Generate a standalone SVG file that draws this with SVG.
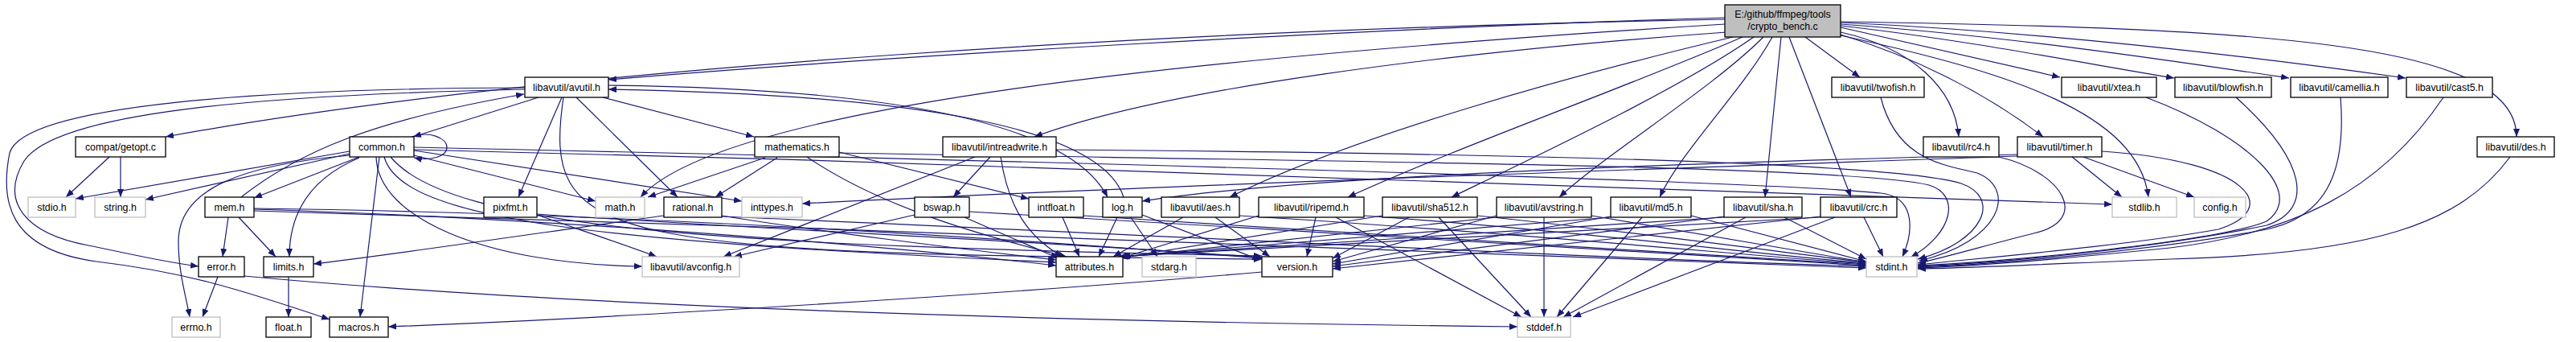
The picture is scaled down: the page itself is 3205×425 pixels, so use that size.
<svg xmlns="http://www.w3.org/2000/svg" width="3205" height="425" viewBox="0 0 3205 425">
<style>
.e{fill:none;stroke:#191970;stroke-width:1.2;marker-end:url(#a)}
.n rect{fill:#fff;stroke:#000;stroke-width:1.3}
.u rect{fill:#fff;stroke:#bfbfbf;stroke-width:1.3}
.r rect{fill:#bfbfbf;stroke:#000;stroke-width:1.3}
text{font-family:"Liberation Sans",Arial,sans-serif;font-size:12.4px;fill:#000;text-anchor:middle}
</style>
<defs>
<marker id="a" viewBox="0 0 10 8" refX="10" refY="4" markerWidth="10" markerHeight="8" markerUnits="userSpaceOnUse" orient="auto"><path d="M0,0L10,4L0,8z" fill="#191970"/></marker>
</defs>
<rect width="3205" height="425" fill="#fff"/>
<g id="connectors">
<path class="e" d="M2146,22 C1700,35 1100,70 757,99"/>
<path class="e" d="M2146,24 C1500,36 700,80 206,170"/>
<path class="e" d="M2146,30 C1500,70 900,130 797,245"/>
<path class="e" d="M2148,40 C1800,65 1450,110 1287,170"/>
<path class="e" d="M2156,46 C1950,95 1680,170 1530,245"/>
<path class="e" d="M2168,46 C2020,110 1820,180 1677,245"/>
<path class="e" d="M2182,46 C2090,110 1920,190 1806,245"/>
<path class="e" d="M2194,46 C2130,110 2000,190 1940,245"/>
<path class="e" d="M2205,46 C2170,110 2090,190 2065,245"/>
<path class="e" d="M2216,46 L2196,245"/>
<path class="e" d="M2226,46 L2303,245"/>
<path class="e" d="M2246,46 L2314,96"/>
<path class="e" d="M2290,40 C2380,60 2432,110 2437,170"/>
<path class="e" d="M2290,43 C2380,70 2470,115 2542,170"/>
<path class="e" d="M2290,34 L2563,96"/>
<path class="e" d="M2290,32 C2450,50 2600,80 2705,97"/>
<path class="e" d="M2290,30 C2500,45 2700,75 2848,97"/>
<path class="e" d="M2290,28 C2550,40 2800,70 2993,97"/>
<path class="e" d="M2290,27 C2800,35 3131,50 3131,170"/>
<path class="e" d="M2290,44 C2500,90 2660,140 2673,245"/>
<path class="e" d="M670,121 L514,170"/>
<path class="e" d="M699,121 L645,245"/>
<path class="e" d="M717,121 L843,245"/>
<path class="e" d="M750,121 L938,170"/>
<path class="e" d="M757,106 C1100,110 1330,150 1378,245"/>
<path class="e" d="M653,111 C320,118 70,140 30,200 C0,250 30,290 110,305 C160,315 200,325 247,331"/>
<path class="e" d="M653,109 C330,110 30,130 12,190 C0,250 10,310 120,325 C230,338 300,360 410,397"/>
<path class="e" d="M701,121 C675,300 740,315 1570,322"/>
<path class="e" d="M300,245 C370,190 460,150 652,117"/>
<path class="e" d="M284,270 L277,319"/>
<path class="e" d="M297,270 L343,319"/>
<path class="e" d="M316,260 C700,272 1100,305 1314,330"/>
<path class="e" d="M316,259 C800,265 1300,300 1570,321"/>
<path class="e" d="M316,262 C1000,280 2000,322 2322,333"/>
<path class="e" d="M512,170 C535,162 556,172 556,183 C556,195 535,200 515,196"/>
<path class="e" d="M435,188 L94,247"/>
<path class="e" d="M435,191 L181,248"/>
<path class="e" d="M447,195 L316,246"/>
<path class="e" d="M435,193 C300,205 222,235 222,300 C222,340 232,370 236,394"/>
<path class="e" d="M447,196 C390,220 360,260 360,319"/>
<path class="e" d="M472,195 L448,394"/>
<path class="e" d="M468,195 C470,270 600,328 799,331"/>
<path class="e" d="M478,195 C500,275 750,300 1314,326"/>
<path class="e" d="M486,195 C560,285 900,305 1570,318"/>
<path class="e" d="M515,193 L741,250"/>
<path class="e" d="M515,187 L923,250"/>
<path class="e" d="M515,183 C1300,200 2200,225 2340,240 C2385,245 2380,290 2367,319"/>
<path class="e" d="M515,186 C1300,205 2200,235 2628,254"/>
<path class="e" d="M271,344 L252,394"/>
<path class="e" d="M304,343 C700,380 1300,400 1888,406"/>
<path class="e" d="M359,344 L359,394"/>
<path class="e" d="M1570,338 C1200,370 700,398 483,406"/>
<path class="e" d="M668,267 C720,285 780,305 817,319"/>
<path class="e" d="M668,266 C950,285 1300,300 1570,320"/>
<path class="e" d="M826,268 C700,285 500,315 390,328"/>
<path class="e" d="M898,268 C1000,285 1200,310 1314,323"/>
<path class="e" d="M898,269 C1400,290 2000,322 2322,331"/>
<path class="e" d="M952,196 L806,245"/>
<path class="e" d="M967,196 L890,245"/>
<path class="e" d="M1004,195 C1100,260 1230,295 1327,319"/>
<path class="e" d="M1044,189 L1280,247"/>
<path class="e" d="M1044,190 C1600,200 2300,205 2400,230 C2440,242 2430,290 2377,320"/>
<path class="e" d="M1232,195 L1186,245"/>
<path class="e" d="M1245,195 C1255,260 1280,295 1322,319"/>
<path class="e" d="M1213,195 L900,319"/>
<path class="e" d="M1314,186 C1800,190 2350,200 2440,228 C2490,245 2470,300 2386,322"/>
<path class="e" d="M1138,267 L913,319"/>
<path class="e" d="M1200,270 L1317,321"/>
<path class="e" d="M1206,263 C1600,285 2100,318 2322,330"/>
<path class="e" d="M1322,270 L1343,319"/>
<path class="e" d="M1348,268 C1700,290 2100,318 2322,329"/>
<path class="e" d="M1390,270 L1367,319"/>
<path class="e" d="M1407,270 L1440,319"/>
<path class="e" d="M1421,267 L1568,323"/>
<path class="e" d="M1398,245 C1370,160 1150,118 757,111"/>
<path class="e" d="M1472,270 L1385,319"/>
<path class="e" d="M1512,270 L1580,319"/>
<path class="e" d="M1542,268 C1900,290 2200,320 2322,328"/>
<path class="e" d="M1637,270 L1626,319"/>
<path class="e" d="M1662,270 L1893,394"/>
<path class="e" d="M1566,268 L1397,320"/>
<path class="e" d="M1697,268 C2000,290 2200,318 2322,327"/>
<path class="e" d="M1790,270 L1905,394"/>
<path class="e" d="M1753,270 L1658,321"/>
<path class="e" d="M1720,268 L1396,320"/>
<path class="e" d="M1838,268 C2050,290 2250,318 2322,326"/>
<path class="e" d="M1921,270 L1921,394"/>
<path class="e" d="M1862,268 L1658,325"/>
<path class="e" d="M1862,270 L1394,320"/>
<path class="e" d="M1980,268 L2322,326"/>
<path class="e" d="M2043,270 L1937,394"/>
<path class="e" d="M2004,269 L1658,328"/>
<path class="e" d="M2004,270 L1393,319"/>
<path class="e" d="M2104,268 L2322,325"/>
<path class="e" d="M2172,270 L1945,394"/>
<path class="e" d="M2220,270 L2322,322"/>
<path class="e" d="M2145,269 L1658,331"/>
<path class="e" d="M2145,270 L1392,319"/>
<path class="e" d="M2319,270 L2343,319"/>
<path class="e" d="M2283,270 L1957,394"/>
<path class="e" d="M2265,269 L1658,334"/>
<path class="e" d="M2265,270 L1391,319"/>
<path class="e" d="M2340,121 C2360,200 2420,205 2460,215 C2510,235 2490,300 2388,324"/>
<path class="e" d="M2487,195 C2570,215 2600,275 2530,290 C2470,305 2420,320 2386,327"/>
<path class="e" d="M2615,188 C2800,200 2840,260 2760,285 C2650,305 2450,322 2386,329"/>
<path class="e" d="M2578,195 L2640,245"/>
<path class="e" d="M2592,195 L2730,245"/>
<path class="e" d="M2510,194 C2000,212 1400,232 998,253"/>
<path class="e" d="M2510,192 C2000,205 1600,222 1421,250"/>
<path class="e" d="M2670,121 C2800,170 2870,240 2820,275 C2760,300 2500,325 2386,330"/>
<path class="e" d="M2782,121 C2870,200 2880,260 2820,280 C2700,305 2500,327 2386,331"/>
<path class="e" d="M2912,121 C2920,220 2890,270 2820,285 C2700,308 2500,328 2386,332"/>
<path class="e" d="M3040,121 C2960,240 2850,290 2700,308 C2600,318 2480,330 2386,333"/>
<path class="e" d="M3123,195 C3060,280 2950,315 2700,322 C2550,328 2450,333 2386,334"/>
<path class="e" d="M136,195 L82,245"/>
<path class="e" d="M150,195 L150,245"/>
</g>
<g id="root" class="r"><rect x="2146" y="6" width="144" height="40"/><text x="2218" y="22">E:/github/ffmpeg/tools</text><text x="2218" y="37">/crypto_bench.c</text></g>
<g id="avutil" class="n"><rect x="653" y="96" width="104" height="25"/><text x="705" y="113">libavutil/avutil.h</text></g>
<g id="twofish" class="n"><rect x="2279" y="96" width="115" height="25"/><text x="2336.5" y="113">libavutil/twofish.h</text></g>
<g id="xtea" class="n"><rect x="2565" y="96" width="118" height="25"/><text x="2624" y="113">libavutil/xtea.h</text></g>
<g id="blowfish" class="n"><rect x="2706" y="96" width="120" height="25"/><text x="2766" y="113">libavutil/blowfish.h</text></g>
<g id="camellia" class="n"><rect x="2850" y="96" width="121" height="25"/><text x="2910.5" y="113">libavutil/camellia.h</text></g>
<g id="cast5" class="n"><rect x="2994" y="96" width="107" height="25"/><text x="3047.5" y="113">libavutil/cast5.h</text></g>
<g id="getopt" class="n"><rect x="94" y="170" width="112" height="25"/><text x="150" y="187">compat/getopt.c</text></g>
<g id="common" class="n"><rect x="435" y="170" width="80" height="25"/><text x="475" y="187">common.h</text></g>
<g id="mathematics" class="n"><rect x="939" y="170" width="105" height="25"/><text x="991.5" y="187">mathematics.h</text></g>
<g id="intreadwrite" class="n"><rect x="1173" y="170" width="141" height="25"/><text x="1243.5" y="187">libavutil/intreadwrite.h</text></g>
<g id="rc4" class="n"><rect x="2393" y="170" width="94" height="25"/><text x="2440" y="187">libavutil/rc4.h</text></g>
<g id="timer" class="n"><rect x="2510" y="170" width="105" height="25"/><text x="2562.5" y="187">libavutil/timer.h</text></g>
<g id="des" class="n"><rect x="3082" y="170" width="96" height="25"/><text x="3130" y="187">libavutil/des.h</text></g>
<g id="stdio" class="u"><rect x="35" y="245" width="59" height="25"/><text x="64.5" y="262">stdio.h</text></g>
<g id="string" class="u"><rect x="118" y="245" width="63" height="25"/><text x="149.5" y="262">string.h</text></g>
<g id="mem" class="n"><rect x="255" y="245" width="61" height="25"/><text x="285.5" y="262">mem.h</text></g>
<g id="pixfmt" class="n"><rect x="602" y="245" width="66" height="25"/><text x="635" y="262">pixfmt.h</text></g>
<g id="math" class="u"><rect x="741" y="245" width="61" height="25"/><text x="771.5" y="262">math.h</text></g>
<g id="rational" class="n"><rect x="826" y="245" width="72" height="25"/><text x="862" y="262">rational.h</text></g>
<g id="inttypes" class="u"><rect x="923" y="245" width="75" height="25"/><text x="960.5" y="262">inttypes.h</text></g>
<g id="bswap" class="n"><rect x="1138" y="245" width="68" height="25"/><text x="1172" y="262">bswap.h</text></g>
<g id="intfloat" class="n"><rect x="1280" y="245" width="68" height="25"/><text x="1314" y="262">intfloat.h</text></g>
<g id="log" class="n"><rect x="1372" y="245" width="49" height="25"/><text x="1396.5" y="262">log.h</text></g>
<g id="aes" class="n"><rect x="1445" y="245" width="97" height="25"/><text x="1493.5" y="262">libavutil/aes.h</text></g>
<g id="ripemd" class="n"><rect x="1566" y="245" width="131" height="25"/><text x="1631.5" y="262">libavutil/ripemd.h</text></g>
<g id="sha512" class="n"><rect x="1720" y="245" width="118" height="25"/><text x="1779" y="262">libavutil/sha512.h</text></g>
<g id="avstring" class="n"><rect x="1862" y="245" width="118" height="25"/><text x="1921" y="262">libavutil/avstring.h</text></g>
<g id="md5" class="n"><rect x="2004" y="245" width="100" height="25"/><text x="2054" y="262">libavutil/md5.h</text></g>
<g id="sha" class="n"><rect x="2145" y="245" width="97" height="25"/><text x="2193.5" y="262">libavutil/sha.h</text></g>
<g id="crc" class="n"><rect x="2265" y="245" width="95" height="25"/><text x="2312.5" y="262">libavutil/crc.h</text></g>
<g id="stdlib" class="u"><rect x="2628" y="245" width="80" height="25"/><text x="2668" y="262">stdlib.h</text></g>
<g id="config" class="u"><rect x="2730" y="245" width="64" height="25"/><text x="2762" y="262">config.h</text></g>
<g id="error" class="n"><rect x="247" y="319" width="57" height="25"/><text x="275.5" y="336">error.h</text></g>
<g id="limits" class="n"><rect x="328" y="319" width="62" height="25"/><text x="359" y="336">limits.h</text></g>
<g id="avconfig" class="u"><rect x="799" y="319" width="121" height="25"/><text x="859.5" y="336">libavutil/avconfig.h</text></g>
<g id="attributes" class="n"><rect x="1314" y="319" width="83" height="25"/><text x="1355.5" y="336">attributes.h</text></g>
<g id="stdarg" class="u"><rect x="1421" y="319" width="67" height="25"/><text x="1454.5" y="336">stdarg.h</text></g>
<g id="version" class="n"><rect x="1570" y="319" width="88" height="25"/><text x="1614" y="336">version.h</text></g>
<g id="stdint" class="u"><rect x="2322" y="319" width="63" height="25"/><text x="2353.5" y="336">stdint.h</text></g>
<g id="errno" class="u"><rect x="214" y="394" width="60" height="25"/><text x="244" y="411">errno.h</text></g>
<g id="float" class="n"><rect x="331" y="394" width="56" height="25"/><text x="359" y="411">float.h</text></g>
<g id="macros" class="n"><rect x="410" y="394" width="73" height="25"/><text x="446.5" y="411">macros.h</text></g>
<g id="stddef" class="u"><rect x="1888" y="394" width="66" height="25"/><text x="1921" y="411">stddef.h</text></g>
</svg>
